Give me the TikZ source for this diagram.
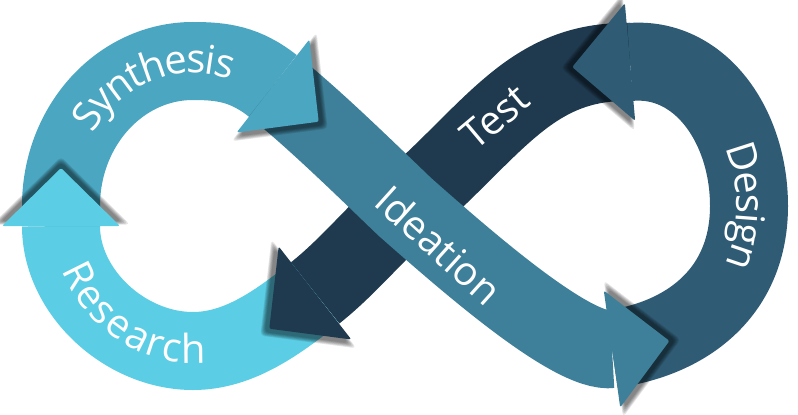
\documentclass[tikz,border=0pt]{standalone}
\usepackage{fontspec}
\setmainfont{Open Sans}
\usetikzlibrary{decorations.text}
\definecolor{research}{HTML}{5BCDE4}
\definecolor{synthesis}{HTML}{4AA6C1}
\definecolor{ideation}{HTML}{3E7F99}
\definecolor{test}{HTML}{1F3A4E}
\definecolor{design}{HTML}{2F5C74}
\newcommand{\labelfont}{\fontsize{40}{40}\selectfont}
\newcommand{\arrowtip}[3]{%
  \begin{scope}[shift={#2}, rotate=#3]
    \foreach \f in {1.02,1.05,1.08,1.11,1.14,1.17}
      \fill[black, opacity=0.1, rounded corners=4pt, scale around={\f:(26,0)}] (5,-59) -- (63,0) -- (5,59) -- cycle;
    \fill[#1, rounded corners=2pt] (0,-59) -- (58,0) -- (0,59) -- cycle;
  \end{scope}}
\begin{document}
\begin{tikzpicture}[x=1pt, y=-1pt,
    band/.style={line width=78pt},
    label/.style={text=white, font=\labelfont, inner sep=0pt},
    curved/.style={decorate, decoration={text along path, text align=center, raise=-12pt, text color=white, text={|\labelfont|#1}}}]
  \useasboundingbox (0,0) rectangle (798,415);
  \coordinate (lc) at (193,206);
  \coordinate (rc) at (617,206);
  \coordinate (cross) at (405,207);
  \coordinate (ltop) at (193,61);
  \coordinate (lleft) at (61,206);
  \coordinate (lbot) at (193,351);
  \coordinate (rright) at (749,206);
  \coordinate (resend) at (61,226);
  \coordinate (synend) at (273,86);
  \coordinate (ideend) at (612,349);
  \coordinate (desend) at (630,62);
  \coordinate (tesend) at (315,293);

  \draw[band, test] (desend) .. controls (530,60) and (494,130) .. (cross)
    .. controls (375,233.4) and (346.6,268.2) .. (tesend);
  \draw[band, research] (tesend) .. controls (279.5,320.9) and (240,351) .. (lbot)
    .. controls (125,351) and (61,292) .. (resend);
  \draw[band, synthesis] (resend) -- (lleft) .. controls (61,126) and (120,61) .. (ltop)
    .. controls (223,61) and (245.4,64.3) .. (synend);
  \draw[band, design] (ideend) .. controls (690,338) and (749,290) .. (rright)
    .. controls (749,126) and (700,56) .. (desend);
  \draw[band, ideation] (synend) .. controls (312.5,117) and (370,173.5) .. (cross)
    .. controls (462.3,257.4) and (572.1,354.6) .. (ideend);

  \arrowtip{research}{(resend)}{90}
  \arrowtip{synthesis}{(synend)}{-38}
  \arrowtip{ideation}{(ideend)}{8}
  \arrowtip{design}{(desend)}{185}
  \arrowtip{test}{(tesend)}{218}

  \path[curved=Synthesis] ([shift={(204:132 and 145)}]lc) arc[start angle=204, end angle=298, x radius=132, y radius=145];
  \path[curved=Research] ([shift={(160:132 and 145)}]lc) arc[start angle=160, end angle=80, x radius=132, y radius=145];
  \path[curved=Design] ([shift={(-35:132 and 145)}]rc) arc[start angle=-35, end angle=35, x radius=132, y radius=145];
  \node[label, rotate=-42] (ideationtext) at (439,245) {Ideation};
  \node[label, rotate=40] (testtext) at (495,117) {Test};
\end{tikzpicture}
\end{document}
